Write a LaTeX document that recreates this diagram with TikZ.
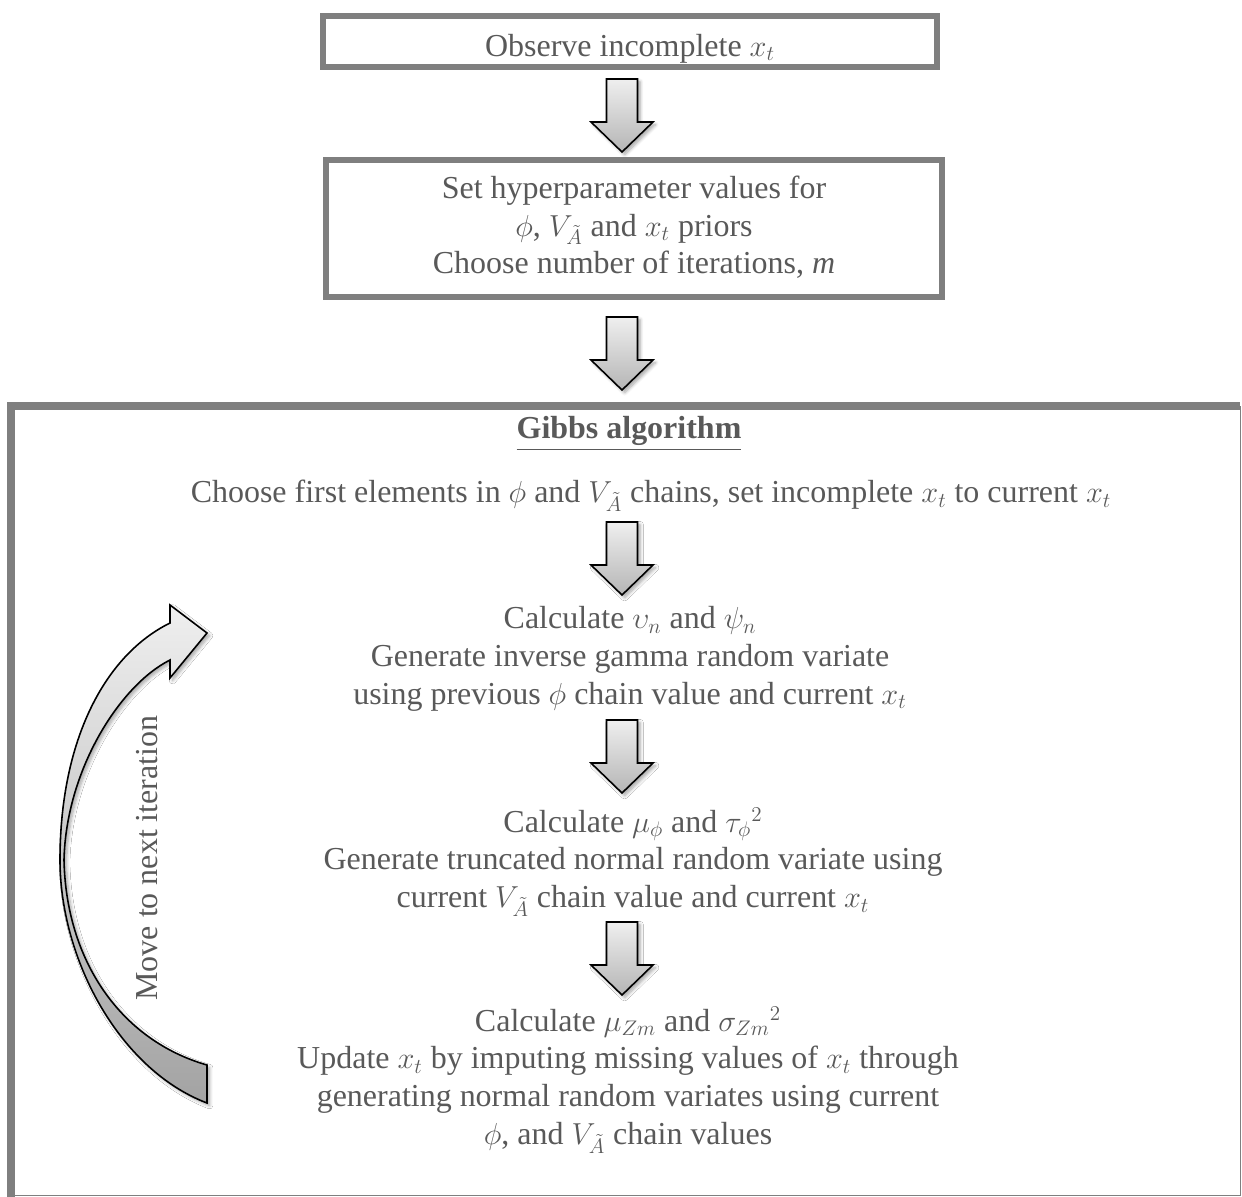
\documentclass[tikz,border=0pt]{standalone}
\usepackage{fontspec}
\setmainfont{Liberation Serif}
\usepackage{amsmath}
\usetikzlibrary{shadows.blur,positioning}
\definecolor{framegray}{HTML}{7F7F7F}
\definecolor{inkgray}{HTML}{595959}
\definecolor{arrlight}{HTML}{EFEFEF}
\definecolor{arrdark}{HTML}{B5B5B5}

\begin{document}
\begin{tikzpicture}[x=0.02cm,y=0.02cm,
  every node/.style={font=\fontsize{18.2}{21.5}\selectfont, text=inkgray},
  stepbox/.style={draw=framegray, line width=0.13cm, fill=white, align=center, inner sep=0pt},
  steptext/.style={align=center, inner sep=0pt},
  arrbody/.style={draw=black, line width=0.9pt, top color=arrlight, bottom color=arrdark,
    blur shadow={shadow xshift=1.5pt, shadow yshift=-1.5pt, shadow opacity=35, shadow blur steps=6}},
  blockdown/.pic={\path[arrbody] (-15.5,0) -- (15.5,0) -- (15.5,-43) -- (31,-43) -- (0,-73)
    -- (-31,-43) -- (-15.5,-43) -- cycle;},
  looparr/.style={arrbody, bottom color=arrdark!90!black}
]
\useasboundingbox (0,0) rectangle (1242,-1197);

% setup boxes
\node[stepbox, minimum width=12.28cm, minimum height=1.02cm, text depth=0pt] (observe) at (630,-41.5)
  {\raisebox{-4pt}{Observe incomplete $x_t$}};
\pic (arrA) at (622,-79) {blockdown};
\node[stepbox, minimum width=12.32cm, minimum height=2.74cm] (setup) at (634,-228.5)
  {\raisebox{-3pt}{\begin{tabular}{@{}c@{}}Set hyperparameter values for\\ $\phi$, $V_{\tilde{A}}$ and $x_t$ priors\\ Choose number of iterations, \textit{m}\end{tabular}}};
\pic (arrB) at (622,-317) {blockdown};

% sampler frame
\fill[white] (11,-406) rectangle (1240,-1196);
\draw[framegray, line width=0.16cm] (1240,-406) -- (11,-406) -- (11,-1197);
\draw[framegray, line width=1pt] (1240.5,-406) -- (1240.5,-1195.5) -- (11,-1195.5);

\node[steptext] (gibbs) at (629,-434) {\textbf{\underline{Gibbs algorithm}}};
\node[steptext] (init) at (651,-496)
  {Choose first elements in $\phi$ and $V_{\tilde{A}}$ chains, set incomplete $x_t$ to current $x_t$};
\pic (arrC) at (622,-522) {blockdown};
\node[steptext] (drawV) at (630,-659)
  {Calculate $\upsilon_n$ and $\psi_n$\\ Generate inverse gamma random variate\\ using previous $\phi$ chain value and current $x_t$};
\pic (arrD) at (622,-720) {blockdown};
\node[steptext] (drawphi) at (633,-862)
  {Calculate $\mu_\phi$ and ${\tau_\phi}^2$\\ Generate truncated normal random variate using\\ current $V_{\tilde{A}}$ chain value and current $x_t$};
\pic (arrE) at (622,-922) {blockdown};
\node[steptext] (impute) at (628,-1080)
  {Calculate $\mu_{Zm}$ and ${\sigma_{Zm}}^2$\\ Update $x_t$ by imputing missing values of $x_t$ through\\ generating normal random variates using current\\ $\phi$, and $V_{\tilde{A}}$ chain values};

% loop back arrow
\draw[looparr] (207,-1103) .. controls (120,-1070) and (60,-960) .. (60,-860)
  .. controls (60,-740) and (105,-655) .. (170,-623) -- (170,-605) -- (207,-633) -- (170,-678) -- (170,-660)
  .. controls (120,-685) and (66,-770) .. (64,-860)
  .. controls (66,-960) and (120,-1040) .. (207,-1065) -- cycle;
\node[rotate=90] (loop) at (147,-858) {Move to next iteration};
\end{tikzpicture}
\end{document}
